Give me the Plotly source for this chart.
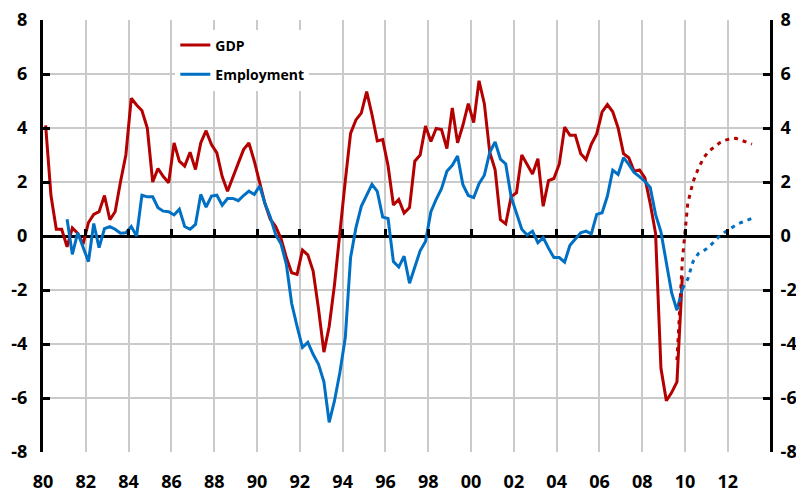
"""GDP vs employment growth, quarterly, with forecast tails."""

import pandas as pd
import plotly.graph_objects as go

GDP_RED = "#B40000"
EMP_BLUE = "#0070C4"
GRID = "#CACACA"
FONT = "Open Sans"

# year-on-year % change, one value per quarter
gdp_start = "1980-01-01"
gdp = [
    4.1, 1.5, 0.25, 0.25,  # 1980
    -0.4, 0.3, 0.1, -0.3,  # 1981
    0.5, 0.8, 0.9, 1.5,  # 1982
    0.6, 0.9, 2.0, 3.0,  # 1983
    5.1, 4.85, 4.65, 4.0,  # 1984
    2.0, 2.5, 2.2, 1.97,  # 1985
    3.45, 2.77, 2.59, 3.1,  # 1986
    2.46, 3.45, 3.9, 3.39,  # 1987
    3.08, 2.2, 1.66, 2.15,  # 1988
    2.7, 3.2, 3.45, 2.77,  # 1989
    2.03, 1.2, 0.62, 0.35,  # 1990
    -0.1, -0.8, -1.36, -1.42,  # 1991
    -0.52, -0.7, -1.3, -2.7,  # 1992
    -4.3, -3.35, -1.8, 0.2,  # 1993
    2.05, 3.8, 4.3, 4.55,  # 1994
    5.35, 4.5, 3.52, 3.57,  # 1995
    2.6, 1.15, 1.35, 0.85,  # 1996
    1.05, 2.77, 3.0, 4.07,  # 1997
    3.5, 3.98, 3.94, 3.24,  # 1998
    4.74, 3.45, 4.1, 4.9,  # 1999
    4.2, 5.75, 4.9, 3.1,  # 2000
    2.45, 0.6, 0.45, 1.45,  # 2001
    1.6, 3.0, 2.65, 2.3,  # 2002
    2.86, 1.1, 2.05, 2.13,  # 2003
    2.67, 4.03, 3.73, 3.73,  # 2004
    3.05, 2.83, 3.4, 3.78,  # 2005
    4.6, 4.87, 4.6, 4.0,  # 2006
    3.05, 2.9, 2.4, 2.45,  # 2007
    2.15, 1.2, 0.1, -4.9,  # 2008
    -6.1, -5.8, -5.4, -1.5,  # 2009
]

emp_start = "1981-01-01"
employment = [
    0.62, -0.68, 0.12, -0.43,  # 1981
    -0.95, 0.46, -0.43, 0.27,  # 1982
    0.35, 0.25, 0.1, 0.12,  # 1983
    0.35, 0.0, 1.51, 1.45,  # 1984
    1.45, 1.05, 0.92, 0.9,  # 1985
    0.78, 0.99, 0.35, 0.25,  # 1986
    0.43, 1.54, 1.07, 1.48,  # 1987
    1.51, 1.14, 1.39, 1.39,  # 1988
    1.31, 1.5, 1.66, 1.54,  # 1989
    1.85, 1.2, 0.7, 0.05,  # 1990
    -0.3, -1.05, -2.5, -3.35,  # 1991
    -4.13, -3.94, -4.38, -4.75,  # 1992
    -5.4, -6.9, -6.1, -5.05,  # 1993
    -3.76, -0.8, 0.3, 1.1,  # 1994
    1.54, 1.91, 1.65, 0.7,  # 1995
    0.65, -0.95, -1.15, -0.75,  # 1996
    -1.75, -1.17, -0.55, -0.2,  # 1997
    0.9, 1.36, 1.75, 2.4,  # 1998
    2.62, 2.96, 1.9, 1.5,  # 1999
    1.42, 1.94, 2.25, 3.1,  # 2000
    3.48, 2.85, 2.67, 1.45,  # 2001
    0.8, 0.25, 0.04, 0.18,  # 2002
    -0.25, -0.06, -0.45, -0.8,  # 2003
    -0.8, -0.97, -0.34, -0.12,  # 2004
    0.12, 0.18, 0.08, 0.8,  # 2005
    0.86, 1.48, 2.44, 2.28,  # 2006
    2.9, 2.65, 2.35, 2.2,  # 2007
    2.02, 1.8, 0.8, 0.15,  # 2008
    -1.05, -2.1, -2.75, -1.95,  # 2009
]

gdp_fc_start = "2009-07-01"
gdp_forecast = [-4.6, -0.9, 1.2, 2.0, 2.5, 2.9, 3.15, 3.3, 3.45, 3.55, 3.6, 3.62, 3.55, 3.45, 3.4]

emp_fc_start = "2009-10-01"
employment_forecast = [-1.95, -1.6, -0.95, -0.65, -0.55, -0.4, -0.2, 0.0, 0.15, 0.28, 0.4, 0.5, 0.58, 0.65]

y_ticks = [-8, -6, -4, -2, 0, 2, 4, 6, 8]
# plain hyphen, narrower than plotly's default minus sign
y_tick_labels = [str(v) for v in y_ticks]


def quarters(start, n):
    # plot each quarter at its middle
    return pd.date_range(start, periods=n, freq="QS") + pd.Timedelta(days=45)


X_RANGE = ["1980-01-01", "2013-12-20"]
tick_font = dict(family=FONT, size=18, color="black", weight="bold")

fig = go.Figure()
fig.add_trace(go.Scatter(
    x=quarters(gdp_start, len(gdp)), y=gdp, mode="lines", name="GDP",
    line=dict(color=GDP_RED, width=3), legendgroup="gdp",
))
fig.add_trace(go.Scatter(
    x=quarters(emp_start, len(employment)), y=employment, mode="lines", name="Employment",
    line=dict(color=EMP_BLUE, width=3), legendgroup="emp", yaxis="y2",
))
fig.add_trace(go.Scatter(
    x=quarters(gdp_fc_start, len(gdp_forecast)), y=gdp_forecast, mode="lines",
    line=dict(color=GDP_RED, width=3, dash="4px,5px"), showlegend=False, xaxis="x2",
))
fig.add_trace(go.Scatter(
    x=quarters(emp_fc_start, len(employment_forecast)), y=employment_forecast, mode="lines",
    line=dict(color=EMP_BLUE, width=3, dash="4px,5px"), showlegend=False, xaxis="x2",
))

y_common = dict(
    range=[-8, 8], tickvals=y_ticks, ticktext=y_tick_labels, automargin=False,
    showline=True, linecolor="black", linewidth=3,
    ticks="inside", ticklen=7, tickwidth=3, tickcolor="black",
    tickfont=tick_font, ticklabeloverflow="allow",
)

# the page body keeps its default 8px margin, so margins are set 8px short on the left/top
fig.update_layout(
    width=804,
    height=491,
    margin=dict(l=35, r=42, t=12, b=47),
    paper_bgcolor="white",
    plot_bgcolor="white",
    xaxis=dict(
        type="date", range=X_RANGE, tick0="1980-01-01", dtick="M24", tickformat="%y",
        showgrid=True, gridcolor=GRID, gridwidth=1.5, showline=False, zeroline=False,
        ticks="", tickfont=tick_font, ticklabelstandoff=17, automargin=False,
        ticklabeloverflow="allow",
    ),
    # tick marks sitting on the zero line
    xaxis2=dict(
        type="date", range=X_RANGE, tick0="1980-01-01", dtick="M24",
        overlaying="x", anchor="free", position=0.5, side="bottom",
        showgrid=False, showline=False, zeroline=False, showticklabels=False,
        ticks="inside", ticklen=7, tickwidth=3, tickcolor="black", automargin=False,
    ),
    yaxis=dict(
        **y_common, ticklabelstandoff=9, showgrid=True, gridcolor=GRID, gridwidth=1.5,
        zeroline=True, zerolinecolor="black", zerolinewidth=3,
    ),
    yaxis2=dict(
        **y_common, ticklabelstandoff=4, overlaying="y", side="right",
        showgrid=False, zeroline=False,
    ),
    legend=dict(
        x=0.182, y=0.978, xanchor="left", yanchor="top",
        bgcolor="white", borderwidth=0,
        font=dict(family=FONT, size=14, color="black", weight="bold"),
        traceorder="grouped", tracegroupgap=8, itemwidth=30,
    ),
    showlegend=True,
)

fig.write_html("out.html")
